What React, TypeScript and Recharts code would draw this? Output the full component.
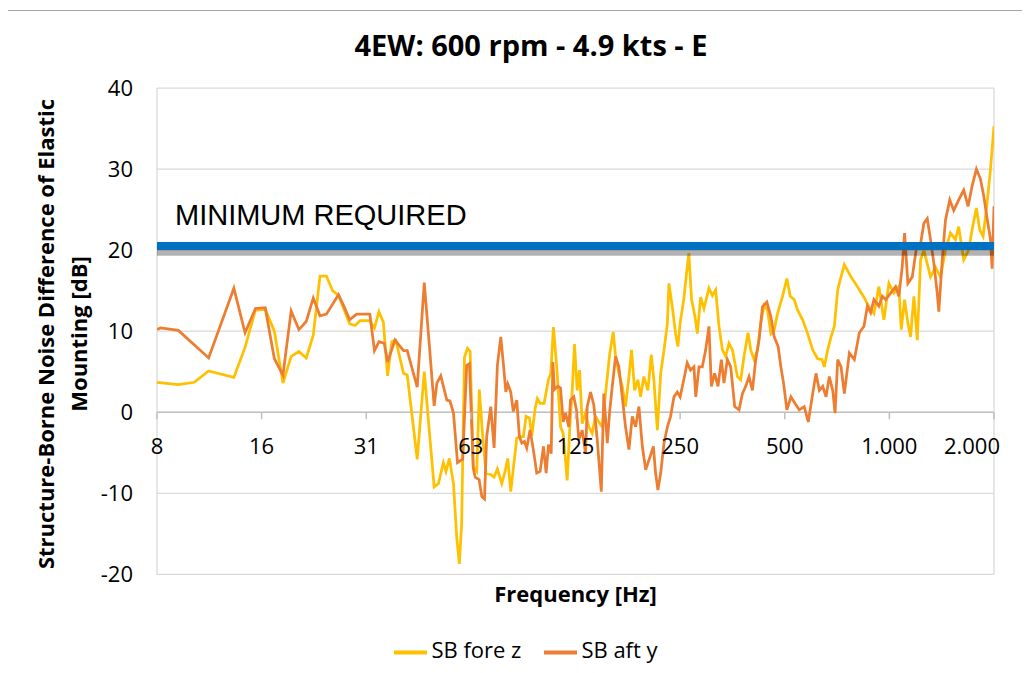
import {
  CartesianGrid,
  Legend,
  Line,
  LineChart,
  ReferenceDot,
  ReferenceLine,
  XAxis,
  YAxis,
} from "recharts";

const FONT = '"Open Sans", sans-serif';

// octave band ticks (Excel log2 axis starting at 7.8125 Hz)
const xTicks = [7.8125, 15.625, 31.25, 62.5, 125, 250, 500, 1000, 2000];
const xTickLabels = ["8", "16", "31", "63", "125", "250", "500", "1.000", "2.000"];
const yTicks = [-20, -10, 0, 10, 20, 30, 40];

const minRequired = 20.5;
const minShadow = 19.8;

const seriesOrder = ["SB fore z", "SB aft y"];

// SB fore z
const foreHz = [
  7.8125, 9, 10, 11, 13, 14, 15, 16, 17, 18, 19, 20, 21, 22, 23, 24, 25, 26, 28, 29,
  30, 32, 33, 34, 35, 36, 37, 38, 40, 41, 43.8, 45.9, 47.5, 49, 50.4, 52.1, 53, 54.2, 55.7, 56.9,
  57.9, 58.8, 59.9, 61.1, 62.2, 63.5, 65, 66.1, 67.6, 69.1, 71.3, 72.9, 74.5, 76.7, 78.4, 79.8, 81.4, 84.7, 86.6, 88.5,
  90.1, 92.1, 93.6, 95.7, 97.1, 98.9, 101.5, 104.5, 106.1, 108, 110.4, 113.2, 115.2, 117, 118.3, 120.4, 122.3, 124.2, 126.4, 128.4,
  130.7, 133.6, 136.5, 139.6, 142.7, 145.9, 149.2, 152.5, 156.9, 160.5, 163, 166.6, 170.4, 174.1, 178.1, 181.2, 184.9, 189, 192.4, 196.6,
  201.9, 206.5, 210.1, 215, 219.8, 224.7, 229.8, 232.1, 237.4, 242.6, 246.3, 250, 256.1, 260.8, 264.9, 269.7, 275.8, 280.2, 286.4, 292.8,
  302.6, 309.5, 316.4, 323.4, 330.8, 338.1, 345.6, 353.5, 365.4, 373.5, 381.8, 392, 399.1, 408, 417.4, 426.6, 436.1, 446.1, 456.1, 466.3,
  476.8, 492.7, 507.1, 518.4, 532.4, 544.5, 562.9, 582, 601.6, 621.9, 640, 649.8, 664.6, 679.4, 694.4, 710.2, 722.6, 742.1, 775.7, 808.6,
  845.1, 873.5, 902.8, 933.1, 964.5, 996.9, 1030.4, 1064.9, 1081.9, 1105.9, 1130.4, 1150.9, 1176.3, 1203.1, 1229.6, 1256.8, 1285.3, 1313.5, 1357.5, 1403,
  1450, 1498.8, 1548.8, 1583.1, 1636.3, 1691.3, 1729.6, 1780, 1819.4, 1860.8, 1910.6, 1953, 2000,
];
const foreDb = [
  3.7, 3.4, 3.7, 5.1, 4.3, 8.0, 12.6, 12.7, 10.0, 3.6, 6.9, 7.5, 6.7, 9.5, 16.8, 16.8, 15.0, 14.4, 10.9, 10.7,
  11.3, 11.3, 10.4, 12.4, 11.1, 4.5, 8.7, 8.9, 4.8, 4.6, -5.8, 5.0, -2.5, -9.2, -8.8, -6.2, -7.3, -5.7, -8.8, -15.4,
  -18.7, -13.7, 6.8, 7.9, 7.5, -6.7, -7.3, 2.8, -3.0, -7.5, -7.7, -8.0, -7.0, -8.8, -7.3, -5.7, -9.8, -3.2, -3.0, -3.0,
  -0.5, -0.7, -2.9, 0.5, 1.7, 1.1, 1.1, 4.0, 4.8, 10.5, 5.6, -1.8, -2.6, -5.9, -8.4, -1.8, 2.7, 8.4, 2.7, 5.2,
  -1.4, -0.1, -1.8, -2.6, -0.5, -1.2, -1.8, 2.3, 7.3, 9.9, 6.9, 4.8, 3.2, 0.7, 4.4, 7.7, 2.7, 4.0, 1.9, 4.4,
  2.7, 7.1, 4.0, -2.2, 4.8, 7.7, 11.0, 15.9, 13.0, 9.7, 8.1, 11.0, 13.9, 17.1, 19.6, 13.9, 11.8, 9.7, 14.2, 12.8,
  15.3, 14.4, 15.1, 10.6, 7.7, 6.9, 8.5, 7.7, 4.4, 4.0, 6.9, 9.8, 7.7, 6.5, 7.7, 11.0, 13.2, 12.6, 9.7, 10.2,
  12.2, 14.3, 16.5, 14.3, 13.9, 12.6, 11.4, 9.7, 7.7, 6.6, 6.5, 5.6, 7.7, 9.3, 10.6, 15.1, 16.4, 18.2, 16.7, 15.5,
  14.2, 13.0, 12.2, 15.5, 11.4, 15.9, 14.7, 15.5, 10.2, 13.9, 11.0, 9.3, 14.3, 8.9, 18.8, 20.0, 18.3, 16.7, 17.9, 16.7,
  20.0, 22.1, 21.3, 22.9, 18.8, 20.0, 22.5, 25.2, 22.5, 21.7, 25.8, 29.9, 35.3,
];

// SB aft y
const aftHz = [
  7.8125, 8, 9, 11, 13, 14, 15, 16, 17, 18, 19, 20, 21, 22, 23, 24, 26, 27, 28, 29.3,
  32, 33, 34, 35.2, 36, 37.8, 40, 41, 43.8, 45.9, 47.5, 49, 49.9, 51.2, 53.3, 54.4, 55.7, 57.2, 59.2, 60.8,
  61.9, 63.5, 64.3, 66, 67.2, 68.4, 69.4, 71.3, 72.9, 74.5, 76.2, 77.5, 78.8, 79.8, 81.4, 82.8, 84.7, 86.2, 87.6, 89.1,
  90.5, 92.5, 94.6, 96.7, 98.9, 101.1, 102.9, 104.5, 106.4, 107.6, 108.7, 111.2, 113.2, 115.2, 117, 119.6, 120.9, 123.6, 125.8, 127.8,
  130.7, 133.6, 135.1, 138.1, 141.1, 144.4, 148.3, 150.8, 154.3, 156.9, 159.5, 163, 166.6, 170.4, 174.1, 178.1, 182.1, 186.1, 190.3, 194.6,
  199, 204.8, 209.4, 212.5, 215.8, 219.8, 224.7, 229.8, 234.7, 240, 245.4, 250, 256.1, 262, 267.9, 274, 277.3, 283.3, 289.6, 296.1,
  302.6, 307.5, 314.3, 321.3, 328.5, 334.3, 341.9, 349.5, 358.9, 369.3, 377.7, 386.1, 394.7, 403.6, 412.5, 421.7, 431.3, 444.1, 456.1, 466.3,
  478.6, 487.3, 496.1, 507.1, 520.8, 534.8, 550.4, 568.9, 584.4, 597.6, 615, 628.8, 643.1, 657.3, 671.8, 687.1, 697.7, 710.2, 726, 742.1,
  767.1, 793, 819.6, 845.1, 864.3, 883.4, 902.8, 933.1, 954.3, 975.5, 1008.3, 1042.1, 1064.9, 1089.1, 1105.9, 1130.4, 1163.8, 1197.6, 1229.6, 1256.8,
  1285.3, 1313.5, 1342.5, 1373.1, 1387.5, 1419.4, 1450, 1491.9, 1531.9, 1583.1, 1636.3, 1685, 1729.6, 1780, 1827.5, 1868.3, 1910.6, 1953, 1975, 2000,
];
const aftDb = [
  10.2, 10.4, 10.1, 6.7, 15.3, 9.8, 12.8, 12.9, 6.6, 4.6, 12.5, 10.2, 11.2, 14.1, 11.9, 12.1, 14.5, 13.0, 11.4, 12.1,
  12.1, 7.6, 8.7, 8.5, 6.2, 8.9, 7.6, 7.6, 3.1, 16.0, 8.1, 0.8, 3.6, 4.5, 1.5, 1.4, -0.1, -6.2, -5.8, 5.8,
  6.0, -6.9, -8.0, -8.3, -10.4, -10.7, -3.0, 0.7, -4.4, 5.8, 9.3, 6.0, 2.5, 3.5, 2.5, 0.1, 1.5, -3.0, -3.8, -3.6,
  -4.4, -2.2, -4.7, -7.5, -7.3, -4.2, -7.5, -4.0, -5.1, 6.2, 2.8, 3.2, 3.0, -1.2, -0.1, -1.8, 1.5, 1.9, 0.3, -3.4,
  -2.2, -5.1, 0.7, 2.5, 0.9, -3.4, -9.8, 2.3, -3.8, 0.3, 3.2, 6.9, 5.6, 1.9, -1.8, -4.6, -0.5, -1.8, 0.7, -4.2,
  -7.1, -5.5, -4.2, -7.5, -9.6, -7.5, -3.8, -1.8, -0.5, 1.9, 2.5, 1.9, 4.0, 6.1, 5.2, 5.6, 1.9, 5.6, 5.6, 7.7,
  10.6, 3.2, 4.8, 3.2, 6.5, 3.6, 6.5, 5.6, 0.7, 0.3, 2.3, 3.2, 4.4, 2.7, 6.5, 8.9, 13.0, 13.6, 11.8, 9.3,
  8.1, 5.6, 3.6, 0.3, 1.9, 1.1, 0.3, 0.7, -1.2, 1.5, 4.8, 2.7, 3.2, 1.9, 4.4, 2.7, -0.1, 6.5, 5.6, 2.3,
  7.3, 6.5, 9.8, 10.6, 13.1, 12.3, 13.9, 13.1, 14.3, 13.9, 14.7, 15.5, 14.3, 18.0, 22.1, 15.9, 16.7, 20.4, 20.8, 23.3,
  23.9, 21.3, 18.4, 14.7, 12.4, 18.8, 23.7, 26.2, 24.9, 26.2, 27.4, 25.4, 27.9, 30.0, 28.8, 26.7, 23.9, 21.4, 17.7, 25.4,
];

const XTick = (props: any) => {
  const { cx, cy, text, last } = props;
  return (
    <g>
      <line x1={cx} y1={cy} x2={cx} y2={cy + 7} stroke="#bfbfbf" strokeWidth={1.5} />
      <text
        x={last ? cx + 6 : cx}
        y={cy + 42}
        textAnchor={last ? "end" : "middle"}
        fontSize={22}
        fontFamily={FONT}
        fill="#000"
      >
        {text}
      </text>
    </g>
  );
};

const MinLabel = (props: any) => {
  const vb = props.viewBox || {};
  return (
    <text
      x={(vb.x ?? 0) + 18}
      y={(vb.y ?? 0) - 21}
      fontSize={29}
      fontFamily='"Liberation Sans", Arial, sans-serif'
      fill="#000"
    >
      MINIMUM REQUIRED
    </text>
  );
};

export default function App() {
  const fore = foreHz.map((f, i) => ({ f, v: foreDb[i] }));
  const aft = aftHz.map((f, i) => ({ f, v: aftDb[i] }));

  return (
    <div style={{ position: "relative", width: 1014, height: 655, fontFamily: FONT, color: "#000" }}>
      <div
        style={{
          position: "absolute",
          left: -1,
          top: 2,
          width: 1020,
          height: 652,
          borderTop: "1px solid #a6a6a6",
          borderLeft: "1px solid #a6a6a6",
        }}
      />
      <div
        style={{
          position: "absolute",
          left: 523,
          top: 36,
          transform: "translate(-50%, -50%)",
          fontSize: 29,
          fontWeight: 700,
          whiteSpace: "nowrap",
          lineHeight: 1,
        }}
      >
        4EW: 600 rpm - 4.9 kts - E
      </div>
      <div
        style={{
          position: "absolute",
          left: 37,
          top: 326,
          transform: "translate(-50%, -50%) rotate(-90deg)",
          fontSize: 22,
          fontWeight: 700,
          whiteSpace: "nowrap",
          lineHeight: 1,
        }}
      >
        Structure-Borne Noise Difference of Elastic
      </div>
      <div
        style={{
          position: "absolute",
          left: 70,
          top: 326,
          transform: "translate(-50%, -50%) rotate(-90deg)",
          fontSize: 22,
          fontWeight: 700,
          whiteSpace: "nowrap",
          lineHeight: 1,
        }}
      >
        Mounting [dB]
      </div>
      <LineChart width={1014} height={655} margin={{ top: 80, right: 28, bottom: 0, left: 0 }}>
        <CartesianGrid stroke="#d9d9d9" strokeWidth={1.25} />
        <XAxis
          type="number"
          dataKey="f"
          scale="log"
          domain={[7.8125, 2000]}
          ticks={xTicks}
          allowDataOverflow
          tick={false}
          axisLine={false}
          tickLine={false}
          height={54}
          label={{
            value: "Frequency [Hz]",
            position: "insideTop",
            offset: 12,
            fontSize: 22,
            fontWeight: 700,
            fill: "#000",
            fontFamily: FONT,
          }}
        />
        <YAxis
          type="number"
          domain={[-20, 40]}
          ticks={yTicks}
          interval={0}
          width={149}
          axisLine={false}
          tickLine={false}
          tickMargin={18}
          tick={{ fontSize: 22, fill: "#000", fontFamily: FONT }}
        />
        <ReferenceLine y={0} stroke="#bfbfbf" strokeWidth={1.5} />
        {xTicks.map((t, i) => (
          <ReferenceDot
            key={t}
            x={t}
            y={0}
            r={0}
            shape={(p: any) => (
              <XTick {...p} text={xTickLabels[i]} last={i === xTicks.length - 1} />
            )}
          />
        ))}
        <Line
          data={fore}
          dataKey="v"
          name="SB fore z"
          type="linear"
          stroke="#FFC000"
          strokeWidth={2.75}
          dot={false}
          isAnimationActive={false}
        />
        <Line
          data={aft}
          dataKey="v"
          name="SB aft y"
          type="linear"
          stroke="#ED7D31"
          strokeWidth={2.75}
          dot={false}
          isAnimationActive={false}
        />
        <ReferenceLine y={minShadow} stroke="#000" strokeOpacity={0.3} strokeWidth={8} />
        <ReferenceLine y={minRequired} stroke="#0070C0" strokeWidth={8} label={MinLabel} />
        <Legend
          verticalAlign="bottom"
          iconType="plainline"
          iconSize={33}
          itemSorter={(item: any) => seriesOrder.indexOf(item.value)}
          wrapperStyle={{
            top: 626,
            bottom: "auto",
            left: 30,
            fontSize: 22,
            fontFamily: FONT,
            paddingTop: 0,
            lineHeight: "30px",
          }}
          formatter={(value: string) => (
            <span style={{ color: "#000", marginRight: value === seriesOrder[0] ? 13 : 0 }}>
              {value}
            </span>
          )}
        />
      </LineChart>
    </div>
  );
}
